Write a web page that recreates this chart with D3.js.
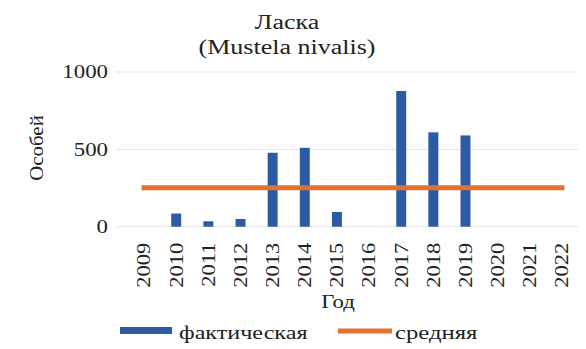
<!DOCTYPE html>
<html><head><meta charset="utf-8">
<script src="https://cdn.jsdelivr.net/npm/d3@7"></script>
<style>body{margin:0;background:#fff}svg text{font-family:"Liberation Serif","Times New Roman",serif;fill:#222}</style>
</head><body><svg id="c" width="586" height="349" font-family="Liberation Serif"></svg>
<script>
const years = ["2009","2010","2011","2012","2013","2014","2015","2016","2017","2018","2019","2020","2021","2022"];
const actual = [0, 85, 35, 50, 478, 510, 95, 0, 877, 610, 590, 0, 0, 0];
const average = [252,252,252,252,252,252,252,252,252,252,252,252,252,252];
const yTicks = [0, 500, 1000];
const titleLines = ["Ласка", "(Mustela nivalis)"];
const legendLabels = ["фактическая", "средняя"];

const svg = d3.select("#c");
const W = 586, H = 349;
const m = {left:128, right:8, top:72, bottom:122};
const x = d3.scaleBand().domain(years).range([m.left, W - m.right]).paddingInner(0.69).paddingOuter(0.345);
const y = d3.scaleLinear().domain([0, 1000]).range([226.7, 72]);

function stretch(sel, k){
  sel.each(function(){
    const len = this.getComputedTextLength();
    d3.select(this).attr("textLength", len * k).attr("lengthAdjust", "spacingAndGlyphs");
  });
}

// gridlines
svg.append("g").selectAll("line").data(yTicks).join("line")
  .attr("x1", m.left - 12).attr("x2", W - m.right)
  .attr("y1", d => y(d)).attr("y2", d => y(d))
  .attr("stroke", "#e4e4e4").attr("stroke-width", 1);

// y axis labels
const yAxis = svg.append("g").attr("transform", `translate(${m.left - 20},0)`)
  .call(d3.axisLeft(y).tickValues(yTicks).tickSize(0).tickPadding(0).tickFormat(d3.format("d")));
yAxis.attr("font-family", "Liberation Serif");
yAxis.select(".domain").remove();
yAxis.selectAll("text").attr("font-size", 18).attr("fill", "#222").call(stretch, 1.27);

// x axis labels
const xAxis = svg.append("g").attr("transform", `translate(0,${y(0)})`)
  .call(d3.axisBottom(x).tickSize(0).tickPadding(0));
xAxis.attr("font-family", "Liberation Serif");
xAxis.select(".domain").remove();
xAxis.selectAll("text").attr("font-size", 18).attr("fill", "#222")
  .attr("text-anchor", "end").attr("transform", "rotate(-90)")
  .attr("x", -16).attr("y", 0).attr("dy", "0.35em").call(stretch, 1.25);

// bars
svg.append("g").selectAll("rect").data(years.map((d,i)=>({year:d, v:actual[i]})).filter(d=>d.v>0)).join("rect")
  .attr("x", d => x(d.year)).attr("width", x.bandwidth())
  .attr("y", d => y(d.v)).attr("height", d => y(0) - y(d.v))
  .attr("fill", "#2c5ba4");

// average line
const line = d3.line().x((d,i) => x(years[i]) + x.bandwidth()/2).y(d => y(d));
svg.append("path").datum(average).attr("d", line)
  .attr("fill", "none").attr("stroke", "#e2702e").attr("stroke-width", 5).attr("stroke-linecap", "square");

// title
svg.append("g").selectAll("text").data(titleLines).join("text")
  .attr("x", 287).attr("y", (d,i) => 29 + i*25)
  .attr("text-anchor", "middle").attr("font-size", 20).text(d => d).call(stretch, 1.3);

// axis titles
svg.append("text").attr("transform", "translate(43,148) rotate(-90)")
  .attr("text-anchor", "middle").attr("font-size", 19).text("Особей").call(stretch, 1.1);
svg.append("text").attr("x", 338).attr("y", 308).attr("text-anchor", "middle").attr("font-size", 19).text("Год").call(stretch, 1.2);

// legend
const lg = svg.append("g");
lg.append("rect").attr("x", 120).attr("y", 327).attr("width", 52).attr("height", 7).attr("fill", "#2c5ba4");
lg.append("text").attr("x", 179).attr("y", 339).attr("font-size", 19).text(legendLabels[0]).call(stretch, 1.27);
lg.append("line").attr("x1", 338).attr("x2", 392).attr("y1", 331).attr("y2", 331)
  .attr("stroke", "#e2702e").attr("stroke-width", 5);
lg.append("text").attr("x", 395).attr("y", 339).attr("font-size", 19).text(legendLabels[1]).call(stretch, 1.3);
</script></body></html>
